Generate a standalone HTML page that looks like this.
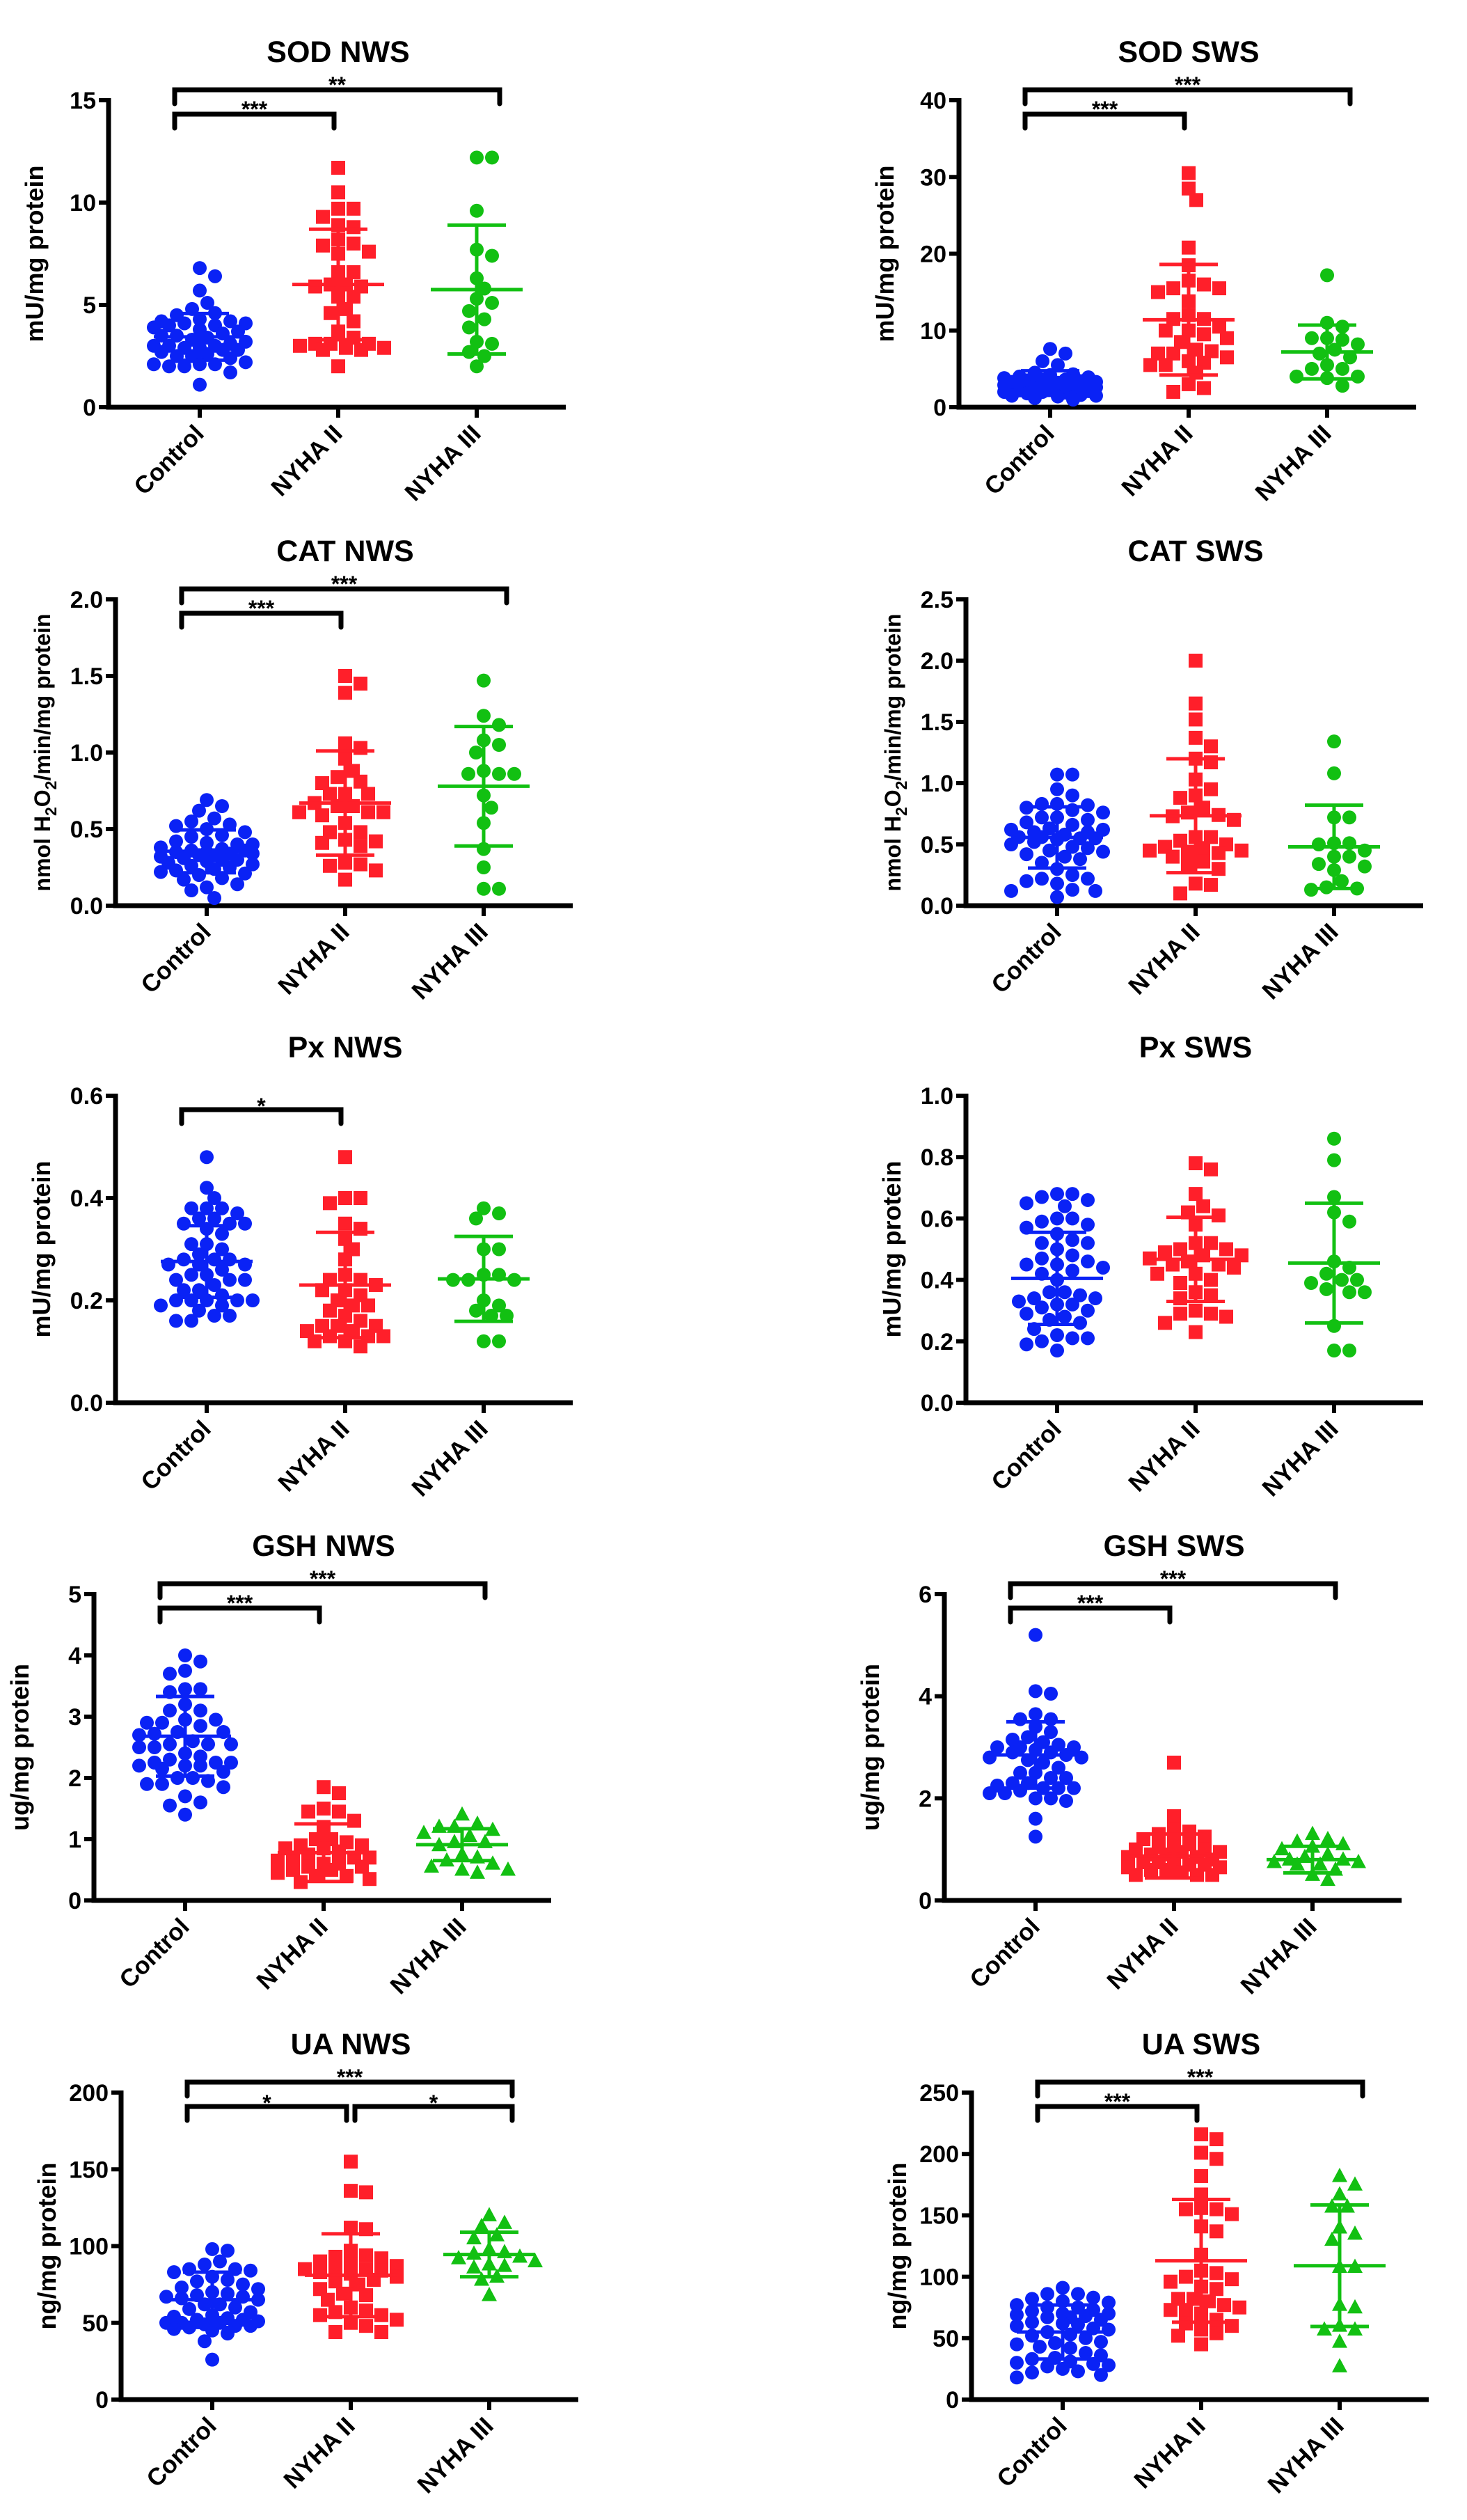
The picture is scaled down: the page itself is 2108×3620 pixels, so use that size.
<!DOCTYPE html>
<html><head><meta charset="utf-8"><style>
html,body{margin:0;padding:0;background:#fff;}
svg{display:block;font-family:"Liberation Sans",Arial,sans-serif;}
</style></head><body>
<svg id="fig" xmlns="http://www.w3.org/2000/svg" width="2108" height="3620" viewBox="0 0 2108 3620"></svg>
<script>
// ---------- DATA ----------
const groupNames = ["Control", "NYHA II", "NYHA III"];
const panelTitles = ["SOD NWS","SOD SWS","CAT NWS","CAT SWS","Px NWS","Px SWS","GSH NWS","GSH SWS","UA NWS","UA SWS"];

const sodNWS_control = [6.8,6.4,5.7,5.1,4.8,4.6,4.5,4.3,4.2,4.2,4.1,4.1,4.0,4.0,3.9,3.8,3.7,3.6,3.5,3.5,3.4,3.3,3.2,3.1,3.0,3.0,3.0,2.9,2.9,2.8,2.8,2.7,2.6,2.5,2.5,2.4,2.2,2.1,2.1,2.0,2.0,2.1,1.7,1.1];
const sodNWS_nyha2 = [11.7,10.5,9.7,9.7,9.3,8.9,8.8,8.2,8.0,7.9,7.6,7.5,6.6,6.6,6.0,6.0,5.9,5.9,5.4,5.4,4.8,4.6,4.2,3.7,3.4,3.1,3.0,3.1,3.1,2.8,2.9,2.8,2.9,2.0];
const sodNWS_nyha3 = [12.2,12.2,9.6,7.7,7.4,6.3,5.8,5.3,5.1,4.7,4.3,3.9,3.2,3.1,2.7,2.5,2.0];
const sodNWS_mean = [3.44,6.0,5.75];
const sodNWS_sd = [1.14,2.7,3.15];

const sodSWS_control = [7.6,7.0,6.0,5.5,4.5,4.3,4.0,3.8,3.6,3.5,3.4,3.3,3.2,3.1,3.0,3.0,2.9,2.8,2.7,2.6,2.5,2.4,2.3,2.2,2.1,2.0,1.9,1.8,1.6,1.5,1.4,1.2,1.0,3.3,3.0,2.8,2.6,3.6,3.9,2.5,2.0,1.5,4.2,3.1,2.7];
const sodSWS_nyha2 = [30.5,28.5,27.0,20.8,18.5,16.5,16.0,15.5,15.5,15.0,13.8,12.0,11.5,11.5,10.5,10.0,10.0,9.5,9.0,8.5,7.5,7.3,7.0,7.0,6.5,6.0,5.8,5.5,5.5,4.5,3.0,2.5,2.0];
const sodSWS_nyha3 = [17.2,11.0,10.5,9.0,9.0,8.8,8.2,7.5,7.0,6.5,5.5,5.0,5.0,4.0,4.0,3.8,2.8];
const sodSWS_mean = [3.15,11.4,7.2];
const sodSWS_sd = [1.6,7.2,3.5];

const catNWS_control = [0.69,0.65,0.62,0.57,0.55,0.53,0.52,0.50,0.48,0.46,0.45,0.42,0.41,0.40,0.40,0.38,0.37,0.36,0.36,0.35,0.35,0.34,0.34,0.33,0.33,0.32,0.31,0.30,0.30,0.29,0.28,0.27,0.26,0.25,0.24,0.23,0.22,0.21,0.20,0.18,0.17,0.14,0.12,0.10,0.05];
const catNWS_nyha2 = [1.50,1.45,1.39,1.06,1.03,0.96,0.88,0.84,0.81,0.80,0.73,0.73,0.73,0.67,0.65,0.65,0.61,0.61,0.61,0.59,0.54,0.48,0.48,0.43,0.42,0.41,0.39,0.28,0.27,0.26,0.23,0.17];
const catNWS_nyha3 = [1.47,1.24,1.18,1.08,1.05,1.00,0.88,0.86,0.86,0.86,0.72,0.64,0.54,0.37,0.25,0.11,0.11];
const catNWS_mean = [0.355,0.67,0.78];
const catNWS_sd = [0.14,0.34,0.39];

const catSWS_control = [1.07,1.07,0.95,0.90,0.83,0.83,0.82,0.80,0.78,0.76,0.72,0.72,0.70,0.68,0.66,0.63,0.62,0.62,0.60,0.60,0.58,0.56,0.56,0.55,0.55,0.54,0.52,0.50,0.48,0.47,0.45,0.44,0.42,0.40,0.38,0.35,0.30,0.25,0.22,0.22,0.20,0.18,0.13,0.12,0.12,0.07];
const catSWS_nyha2 = [2.00,1.65,1.52,1.37,1.30,1.20,1.17,1.03,0.95,0.90,0.88,0.80,0.76,0.74,0.73,0.70,0.56,0.56,0.53,0.50,0.48,0.47,0.45,0.45,0.44,0.43,0.40,0.36,0.33,0.30,0.18,0.17,0.10];
const catSWS_nyha3 = [1.34,1.08,0.72,0.72,0.51,0.51,0.50,0.45,0.40,0.40,0.34,0.32,0.29,0.20,0.15,0.14,0.13];
const catSWS_mean = [0.557,0.734,0.48];
const catSWS_sd = [0.25,0.465,0.34];

const pxNWS_control = [0.48,0.42,0.40,0.38,0.38,0.38,0.37,0.36,0.36,0.35,0.35,0.35,0.34,0.33,0.31,0.31,0.30,0.29,0.28,0.28,0.28,0.27,0.27,0.27,0.26,0.25,0.25,0.24,0.24,0.24,0.23,0.22,0.22,0.21,0.20,0.20,0.20,0.20,0.20,0.19,0.19,0.18,0.17,0.17,0.16,0.16];
const pxNWS_nyha2 = [0.48,0.40,0.40,0.39,0.35,0.34,0.32,0.30,0.28,0.25,0.24,0.24,0.23,0.22,0.22,0.21,0.20,0.19,0.19,0.18,0.17,0.16,0.15,0.15,0.15,0.14,0.14,0.13,0.13,0.13,0.12,0.12,0.11];
const pxNWS_nyha3 = [0.38,0.37,0.36,0.30,0.30,0.25,0.25,0.24,0.24,0.24,0.20,0.19,0.18,0.17,0.17,0.12,0.12];
const pxNWS_mean = [0.276,0.23,0.242];
const pxNWS_sd = [0.07,0.103,0.083];

const pxSWS_control = [0.68,0.67,0.68,0.66,0.65,0.64,0.60,0.60,0.59,0.58,0.57,0.55,0.53,0.52,0.52,0.50,0.48,0.47,0.46,0.45,0.45,0.44,0.43,0.42,0.40,0.36,0.36,0.35,0.34,0.34,0.33,0.32,0.32,0.31,0.30,0.29,0.28,0.27,0.26,0.24,0.22,0.21,0.21,0.20,0.19,0.17];
const pxSWS_nyha2 = [0.78,0.76,0.68,0.64,0.62,0.61,0.58,0.52,0.52,0.50,0.50,0.49,0.48,0.48,0.47,0.46,0.45,0.45,0.44,0.42,0.42,0.40,0.39,0.36,0.35,0.34,0.30,0.29,0.29,0.28,0.26,0.23];
const pxSWS_nyha3 = [0.86,0.79,0.67,0.62,0.59,0.46,0.44,0.42,0.40,0.40,0.39,0.37,0.36,0.36,0.25,0.17,0.17];
const pxSWS_mean = [0.405,0.467,0.455];
const pxSWS_sd = [0.15,0.137,0.195];

const gshNWS_control = [4.0,3.9,3.75,3.7,3.45,3.45,3.4,3.2,3.1,3.1,2.95,2.95,2.9,2.9,2.85,2.75,2.75,2.72,2.7,2.6,2.55,2.55,2.55,2.5,2.5,2.4,2.35,2.3,2.25,2.25,2.25,2.2,2.2,2.2,2.15,2.1,2.0,2.0,1.95,1.9,1.85,1.9,1.7,1.6,1.55,1.4];
const gshNWS_nyha2 = [1.85,1.75,1.5,1.45,1.45,1.3,1.2,1.0,1.0,0.95,0.9,0.9,0.85,0.85,0.8,0.75,0.7,0.7,0.7,0.65,0.6,0.6,0.55,0.55,0.5,0.5,0.45,0.4,0.4,0.35,0.3];
const gshNWS_nyha3 = [1.4,1.25,1.2,1.2,1.15,1.1,1.05,0.95,0.95,0.9,0.75,0.7,0.65,0.6,0.55,0.5,0.5,0.45];
const gshNWS_mean = [2.68,0.78,0.91];
const gshNWS_sd = [0.65,0.47,0.26];

const gshSWS_control = [5.2,4.1,4.05,3.65,3.55,3.55,3.4,3.3,3.2,3.15,3.1,3.05,3.0,3.0,3.0,2.95,2.9,2.9,2.85,2.8,2.8,2.75,2.7,2.6,2.5,2.5,2.4,2.4,2.3,2.3,2.25,2.2,2.2,2.2,2.15,2.1,2.1,2.0,2.0,1.95,1.6,1.25];
const gshSWS_nyha2 = [2.7,1.65,1.4,1.35,1.3,1.25,1.2,1.15,1.1,1.05,1.0,1.0,0.95,0.95,0.9,0.9,0.85,0.85,0.8,0.8,0.75,0.75,0.7,0.7,0.65,0.65,0.6,0.6,0.55,0.5,0.5,0.5];
const gshSWS_nyha3 = [1.3,1.2,1.15,1.1,1.05,1.0,0.9,0.85,0.8,0.8,0.75,0.75,0.7,0.7,0.6,0.5,0.4];
const gshSWS_mean = [2.85,0.87,0.8];
const gshSWS_sd = [0.65,0.43,0.26];

const uaNWS_control = [97,98,90,88,85,85,84,83,80,78,77,75,73,72,70,69,68,67,67,66,65,62,62,60,59,57,55,54,53,52,52,51,50,50,50,49,48,48,47,46,45,43,38,26];
const uaNWS_nyha2 = [155,136,135,112,111,97,94,93,92,90,88,87,85,85,85,84,83,82,80,78,77,75,72,69,68,65,60,58,57,55,55,52,50,48,44,44];
const uaNWS_nyha3 = [120,115,113,107,105,98,96,95,93,92,90,88,87,86,80,78,68];
const uaNWS_mean = [65,81,94.5];
const uaNWS_sd = [18,27,14.5];

const uaSWS_control = [91,86,86,83,82,80,79,77,75,75,73,72,70,70,69,68,67,67,65,63,62,61,60,58,57,55,53,52,50,47,46,45,43,42,38,36,34,33,31,30,29,28,27,25,23,22,20,18];
const uaSWS_nyha2 = [216,212,201,196,182,167,156,155,155,151,141,137,118,105,103,100,98,96,92,90,82,82,80,77,75,73,73,70,65,62,60,57,54,52,45];
const uaSWS_nyha3 = [182,175,167,157,157,140,135,130,108,108,77,75,60,57,57,47,27];
const uaSWS_mean = [55,113,109];
const uaSWS_sd = [22,50,49.5];

// y ticks
const ticks_sodNWS = [0,5,10,15];
const ticks_sodSWS = [0,10,20,30,40];
const ticks_catNWS = ["0.0","0.5","1.0","1.5","2.0"];
const ticks_catSWS = ["0.0","0.5","1.0","1.5","2.0","2.5"];
const ticks_pxNWS = ["0.0","0.2","0.4","0.6"];
const ticks_pxSWS = ["0.0","0.2","0.4","0.6","0.8","1.0"];
const ticks_gshNWS = [0,1,2,3,4,5];
const ticks_gshSWS = [0,2,4,6];
const ticks_uaNWS = [0,50,100,150,200];
const ticks_uaSWS = [0,50,100,150,200,250];

// significance brackets: [fromGroup, toGroup, label, level]
const sig_sodNWS = [[0,2,"**",0],[0,1,"***",1]];
const sig_sodSWS = [[0,2,"***",0],[0,1,"***",1]];
const sig_catNWS = [[0,2,"***",0],[0,1,"***",1]];
const sig_catSWS = [];
const sig_pxNWS = [[0,1,"*",1]];
const sig_pxSWS = [];
const sig_gshNWS = [[0,2,"***",0],[0,1,"***",1]];
const sig_gshSWS = [[0,2,"***",0],[0,1,"***",1]];
const sig_uaNWS = [[0,2,"***",0],[0,1,"*",1],[1,2,"*",1]];
const sig_uaSWS = [[0,2,"***",0],[0,1,"***",1]];

// ---------- RENDER ----------
const NS = "http://www.w3.org/2000/svg";
const svg = document.getElementById("fig");
const COLORS = ["#0a22f5", "#ff1f2a", "#12c012"];
function mk(tag, attrs, parent){ const e=document.createElementNS(NS,tag); for(const k in attrs) e.setAttribute(k,attrs[k]); (parent||svg).appendChild(e); return e; }

const rowGeom = [
  {ax:156, top:144, zero:585},
  {ax:166, top:861, zero:1301},
  {ax:166, top:1574, zero:2015},
  {ax:135, top:2290, zero:2730},
  {ax:174, top:3006, zero:3447}
];
const panels = [
  {g:[sodNWS_control,sodNWS_nyha2,sodNWS_nyha3], m:sodNWS_mean, s:sodNWS_sd, t:ticks_sodNWS, sig:sig_sodNWS, yl:"mU/mg protein", tri:false},
  {g:[sodSWS_control,sodSWS_nyha2,sodSWS_nyha3], m:sodSWS_mean, s:sodSWS_sd, t:ticks_sodSWS, sig:sig_sodSWS, yl:"mU/mg protein", tri:false},
  {g:[catNWS_control,catNWS_nyha2,catNWS_nyha3], m:catNWS_mean, s:catNWS_sd, t:ticks_catNWS, sig:sig_catNWS, yl:"CAT", tri:false},
  {g:[catSWS_control,catSWS_nyha2,catSWS_nyha3], m:catSWS_mean, s:catSWS_sd, t:ticks_catSWS, sig:sig_catSWS, yl:"CAT", tri:false},
  {g:[pxNWS_control,pxNWS_nyha2,pxNWS_nyha3], m:pxNWS_mean, s:pxNWS_sd, t:ticks_pxNWS, sig:sig_pxNWS, yl:"mU/mg protein", tri:false},
  {g:[pxSWS_control,pxSWS_nyha2,pxSWS_nyha3], m:pxSWS_mean, s:pxSWS_sd, t:ticks_pxSWS, sig:sig_pxSWS, yl:"mU/mg protein", tri:false},
  {g:[gshNWS_control,gshNWS_nyha2,gshNWS_nyha3], m:gshNWS_mean, s:gshNWS_sd, t:ticks_gshNWS, sig:sig_gshNWS, yl:"ug/mg protein", tri:true},
  {g:[gshSWS_control,gshSWS_nyha2,gshSWS_nyha3], m:gshSWS_mean, s:gshSWS_sd, t:ticks_gshSWS, sig:sig_gshSWS, yl:"ug/mg protein", tri:true},
  {g:[uaNWS_control,uaNWS_nyha2,uaNWS_nyha3], m:uaNWS_mean, s:uaNWS_sd, t:ticks_uaNWS, sig:sig_uaNWS, yl:"ng/mg protein", tri:true},
  {g:[uaSWS_control,uaSWS_nyha2,uaSWS_nyha3], m:uaSWS_mean, s:uaSWS_sd, t:ticks_uaSWS, sig:sig_uaSWS, yl:"ng/mg protein", tri:true}
];

function swarm(ys, diam){
  const idx = ys.map((y,i)=>i).sort((a,b)=>ys[a]-ys[b]);
  const placed = []; const off = new Array(ys.length).fill(0);
  const step = diam*0.55, maxOff = 68;
  idx.forEach(i=>{
    let best=0, bestD=-1;
    for(let k=0;k<=14;k++){
      const o = (k===0)?0:((k%2?1:-1)*Math.ceil(k/2)*step);
      if(Math.abs(o)>maxOff) break;
      let md=1e9;
      placed.forEach(p=>{ const d=Math.hypot(p[0]-o,p[1]-ys[i]); if(d<md) md=d; });
      if(md>=diam*0.9){ best=o; bestD=md; break; }
      if(md>bestD){ bestD=md; best=o; }
    }
    off[i]=best; placed.push([best, ys[i]]);
  });
  return off;
}

panels.forEach((P, pi)=>{
  const col = pi%2, row = Math.floor(pi/2);
  const G = rowGeom[row];
  const dx = col*1222;
  const ax = G.ax+dx;
  const cats = [ax+131, ax+330, ax+529];
  const tickVals = P.t.map(Number);
  const ymax = tickVals[tickVals.length-1];
  const yS = v => G.zero - (v/ymax)*(G.zero-G.top);
  const g = mk("g", {});
  
  

  const tt = mk("text", {x:cats[1], y:G.top-55, "text-anchor":"middle", "font-size":43, "font-weight":"bold", fill:"#000"}, g);
  tt.textContent = panelTitles[pi];
  
  

  const ya = mk("line", {x1:ax, y1:G.top-3, x2:ax, y2:G.zero+3.5, stroke:"#000", "stroke-width":7}, g);
  
  
  const xa = mk("line", {x1:ax-3.5, y1:G.zero, x2:cats[2]+128, y2:G.zero, stroke:"#000", "stroke-width":7}, g);
  
  

  P.t.forEach((lab, ti)=>{
    const y = yS(tickVals[ti]);
    mk("line", {x1:ax-14, y1:y, x2:ax, y2:y, stroke:"#000", "stroke-width":6}, g);
    const tl = mk("text", {x:ax-18, y:y+12, "text-anchor":"end", "font-size":34, "font-weight":"bold", fill:"#000"}, g);
    tl.textContent = String(lab);
    
    
  });

  const ycx = ax-94, ycy = (G.top+G.zero)/2;
  const yt = mk("text", {x:ycx, y:ycy, transform:`rotate(-90 ${ycx} ${ycy})`, "text-anchor":"middle", "font-size":P.yl==="CAT"?32:36, "font-weight":"bold", fill:"#000"}, g);
  if(P.yl==="CAT"){
    yt.innerHTML = 'nmol H<tspan font-size="23" dy="9">2</tspan><tspan dy="-9">O</tspan><tspan font-size="23" dy="9">2</tspan><tspan dy="-9">/min/mg protein</tspan>';
  } else yt.textContent = P.yl;
  
  

  cats.forEach((cx, ci)=>{
    mk("line", {x1:cx, y1:G.zero, x2:cx, y2:G.zero+15, stroke:"#000", "stroke-width":6}, g);
    const lx = cx+8, ly = G.zero+40;
    const cl = mk("text", {x:lx, y:ly, transform:`rotate(-45 ${lx} ${ly})`, "text-anchor":"end", "font-size":35, "font-weight":"bold", fill:"#000"}, g);
    cl.textContent = groupNames[ci];
    
    
  });

  P.g.forEach((vals, gi)=>{
    const ys = vals.map(yS);
    const offs = swarm(ys, 20);
    const color = COLORS[gi];
    vals.forEach((v, k)=>{
      const x = cats[gi]+offs[k], y = ys[k];
      let el;
      if(gi===1){
        el = mk("rect", {x:x-10, y:y-10, width:20, height:20, fill:color}, g);
      } else if(gi===2 && P.tri){
        el = mk("polygon", {points:`${x},${y-12} ${x+11},${y+8.5} ${x-11},${y+8.5}`, fill:color}, g);
      } else {
        el = mk("circle", {cx:x, cy:y, r:10, fill:color}, g);
      }
      
      
    });
    const m = P.m[gi], s = P.s[gi];
    const ym = yS(m), yh = yS(m+s), yl = yS(Math.max(0,m-s));
    const eb = mk("g", {stroke:color, "stroke-width":5}, g);
    
    
    mk("line", {x1:cats[gi]-66, y1:ym, x2:cats[gi]+66, y2:ym}, eb);
    mk("line", {x1:cats[gi], y1:yh, x2:cats[gi], y2:yl}, eb);
    mk("line", {x1:cats[gi]-42, y1:yh, x2:cats[gi]+42, y2:yh}, eb);
    mk("line", {x1:cats[gi]-42, y1:yl, x2:cats[gi]+42, y2:yl}, eb);
  });

  P.sig.forEach(b=>{
    const x1 = b[0]===0 ? cats[0]-36 : cats[b[0]]+6;
    const x2 = b[1]===2 ? cats[2]+33 : cats[b[1]]-6;
    const yb = b[3]===0 ? G.top-15 : G.top+20;
    const br = mk("path", {d:`M${x1},${yb+20} L${x1},${yb} L${x2},${yb} L${x2},${yb+20}`, fill:"none", stroke:"#000", "stroke-width":7, "stroke-linecap":"round", "stroke-linejoin":"miter"}, g);
    
    
    const st = mk("text", {x:(x1+x2)/2, y:yb+(b[2]==="*"?6:4), "text-anchor":"middle", "font-size":32, "font-weight":"bold", fill:"#000"}, g);
    st.textContent = b[2];
    
    
  });
});
</script>
</body></html>
